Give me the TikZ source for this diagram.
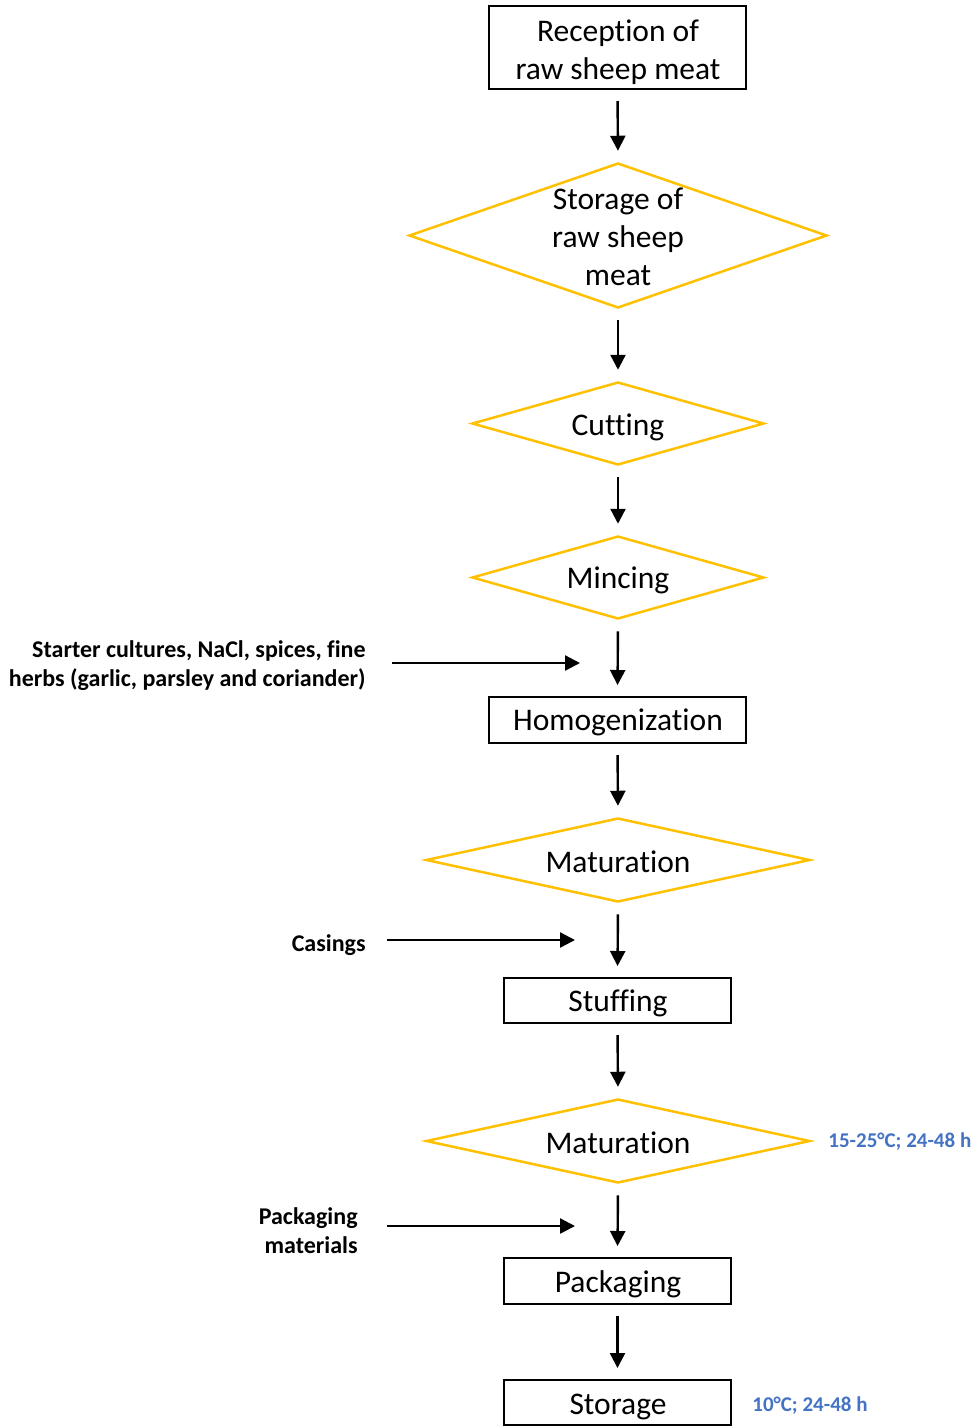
\documentclass[tikz,border=0pt]{standalone}
\usepackage{fontspec}
\setmainfont{Carlito}[Ligatures=NoCommon]
\usetikzlibrary{shapes.geometric,arrows.meta}
\definecolor{stepgold}{HTML}{FFC000}
\definecolor{noteblue}{HTML}{4472C4}
\begin{document}
\begin{tikzpicture}[x=0.5pt,y=-0.5pt,
  stepbox/.style={draw=black,line width=1pt,inner sep=0pt},
  decision/.style={diamond,draw=stepgold,line width=1.25pt,inner sep=0pt},
  steptext/.style={align=center,inner sep=0pt,font=\fontsize{15.75pt}{19pt}\selectfont},
  flow/.style={line width=1.2pt,-{Triangle[length=7.5pt,width=7.5pt]},
    shorten <=5.5pt,shorten >=5.5pt},
  feed/.style={line width=1.2pt,-{Triangle[length=7.5pt,width=7.5pt]}},
  inputlabel/.style={align=right,inner sep=0pt,anchor=east,
    font=\bfseries\fontsize{12pt}{14.5pt}\selectfont},
  note/.style={inner sep=0pt,anchor=west,text=noteblue,
    font=\bfseries\fontsize{10.5pt}{14.5pt}\selectfont}]
\useasboundingbox (0,0) rectangle (973,1426);

% process step outlines
\node[stepbox,minimum width=128.5pt,minimum height=41.5pt] (rec) at (617.5,47.5) {};
\node[decision,minimum width=209pt,minimum height=72.5pt] (sto) at (618,235.5) {};
\node[decision,minimum width=146pt,minimum height=41.5pt] (cut) at (618,423.5) {};
\node[decision,minimum width=146pt,minimum height=41.5pt] (min) at (618,577.5) {};
\node[stepbox,minimum width=128.5pt,minimum height=23pt] (hom) at (617.5,720) {};
\node[decision,minimum width=192pt,minimum height=42pt] (mat1) at (618,860) {};
\node[stepbox,minimum width=113.5pt,minimum height=22.5pt] (stf) at (617.5,1000.5) {};
\node[decision,minimum width=192pt,minimum height=42pt] (mat2) at (618,1141) {};
\node[stepbox,minimum width=113.5pt,minimum height=23pt] (pck) at (617.5,1281) {};
\node[stepbox,minimum width=113.5pt,minimum height=22.5pt] (str) at (617.5,1402.5) {};

% step names
\node[steptext] (recT) at (618,52.5) {Reception of\\raw sheep meat};
\node[steptext] (stoT) at (618,237) {Storage of\\raw sheep\\meat};
\node[steptext] (cutT) at (618,427) {Cutting};
\node[steptext] (minT) at (618,580) {Mincing};
\node[steptext] (homT) at (618,722) {Homogenization};
\node[steptext] (mat1T) at (618,862) {Maturation};
\node[steptext] (stfT) at (618,1003.5) {Stuffing};
\node[steptext] (mat2T) at (618,1143) {Maturation};
\node[steptext] (pckT) at (618,1284) {Packaging};
\node[steptext] (strT) at (618,1406.5) {Storage};

% flow between steps
\draw[flow] (rec.south) -- (sto.north);
\draw[flow] (sto.south) -- (cut.north);
\draw[flow] (cut.south) -- (min.north);
\draw[flow] (min.south) -- (hom.north);
\draw[flow] (hom.south) -- (mat1.north);
\draw[flow] (mat1.south) -- (stf.north);
\draw[flow] (stf.south) -- (mat2.north);
\draw[flow] (mat2.south) -- (pck.north);
\draw[flow] (pck.south) -- (str.north);

% added ingredients and materials
\node[inputlabel] (ing) at (366,666) {Starter cultures, NaCl, spices, fine\\herbs (garlic, parsley and coriander)};
\coordinate (ingA) at (392,663);
\coordinate (ingB) at (580,663);
\draw[feed] (ingA) -- (ingB);

\node[inputlabel] (cas) at (366,945) {Casings};
\coordinate (casA) at (387,940);
\coordinate (casB) at (575,940);
\draw[feed] (casA) -- (casB);

\node[inputlabel] (pmat) at (358,1231) {Packaging\\materials};
\coordinate (pmatA) at (387,1226);
\coordinate (pmatB) at (575,1226);
\draw[feed] (pmatA) -- (pmatB);

% process conditions
\node[note] (c1) at (828,1142) {15-25°C; 24-48 h};
\node[note] (c2) at (752,1406) {10°C; 24-48 h};
\end{tikzpicture}
\end{document}
